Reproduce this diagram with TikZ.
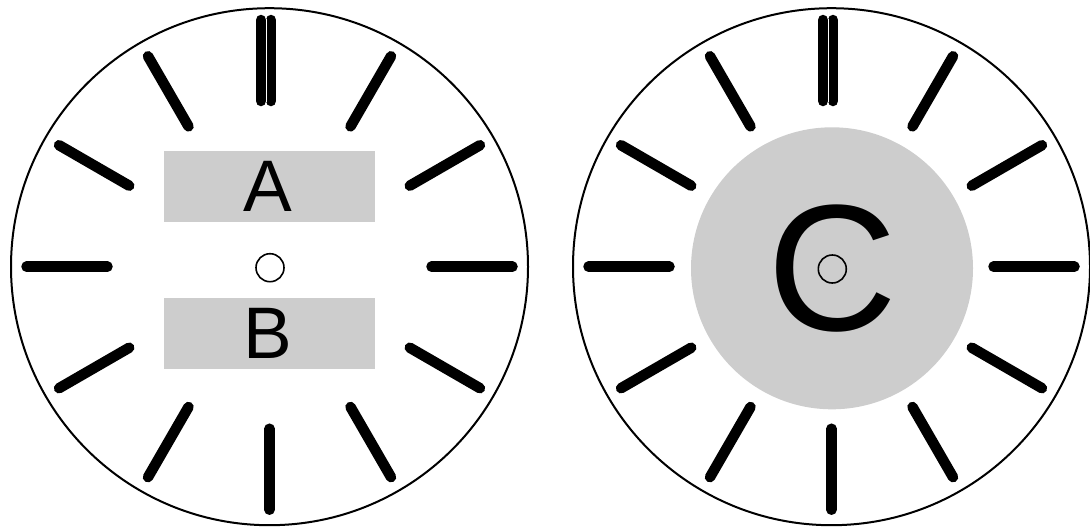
\documentclass[tikz,border=0pt]{standalone}
\usepackage{fontspec}
\setmainfont{Liberation Sans}
\definecolor{panelgray}{RGB}{205,205,205}
\begin{document}
\begin{tikzpicture}[x=1pt,y=-1pt,
  rim/.style={line width=2pt,draw=black},
  tickmark/.style={line width=10.5pt,line cap=round},
  gapline/.style={draw=white,line width=0.8pt},
  hub/.style={line width=1.6pt,draw=black},
  panel/.style={fill=panelgray,draw=none},
  lbl/.style={inner sep=0pt,font=\fontsize{73}{73}\selectfont},
  biglbl/.style={inner sep=0pt,font=\fontsize{180}{180}\selectfont}]
\useasboundingbox (0,0) rectangle (1090,528);
% gray panels
\fill[panel] (164,151) rectangle (375,221.7);
\fill[panel] (164,297.7) rectangle (375,369);
\fill[panel] (832,268.3) circle[radius=141pt];
% dials
\foreach \cx in {269.5,831.5} {
  \draw[rim] (\cx,266.7) circle[radius=258.5pt];
  \foreach \a in {0,30,60,120,150,180,210,240,270,300,330} {
    \draw[tickmark,shift={(\cx,266.7)}] (\a:162pt) -- (\a:243pt);
  }
  \draw[tickmark] (\cx-8.5,20) -- (\cx-8.5,101);
  \draw[tickmark] (\cx+1.5,20) -- (\cx+1.5,101);
  \draw[gapline] (\cx-3.5,19) -- (\cx-3.5,102);
}
% labels
\node[lbl] (A) at (268,186.7) {A};
\node[lbl] (B) at (268,333.3) {B};
\node[biglbl] (C) at (832,268.7) {C};
% hubs
\draw[hub] (270,267.7) circle[radius=14pt];
\draw[hub] (832.3,269) circle[radius=14pt];
\end{tikzpicture}
\end{document}
